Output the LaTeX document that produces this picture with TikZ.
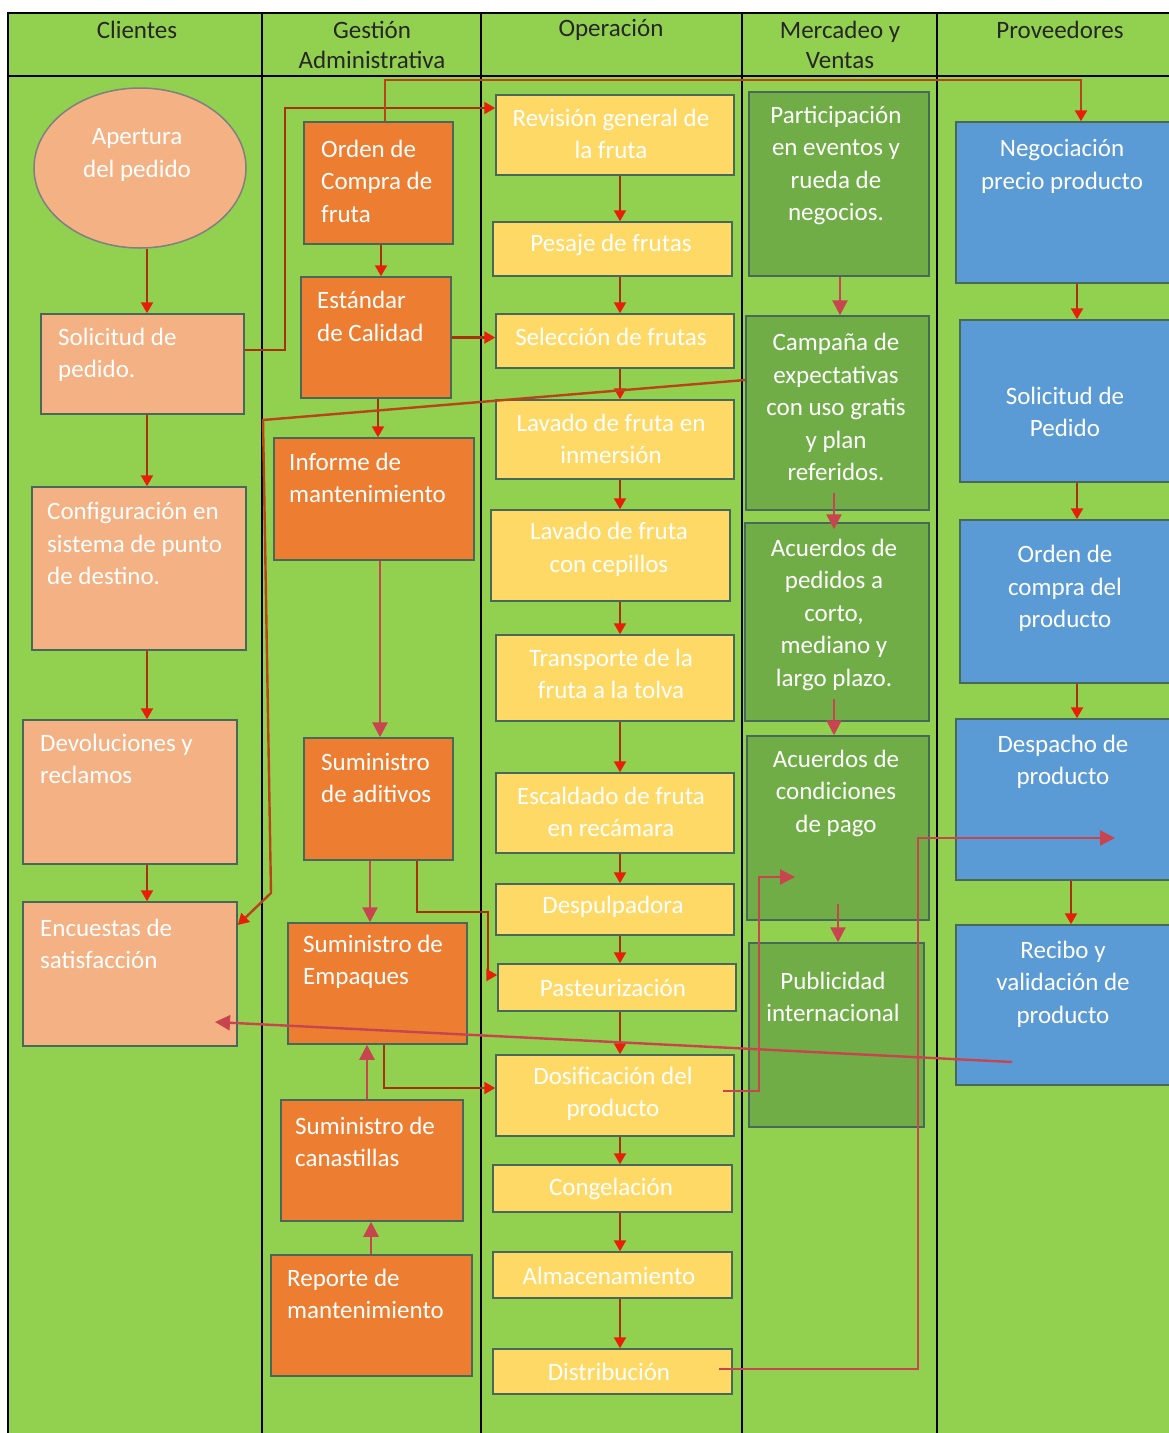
\documentclass[tikz,border=0pt]{standalone}
\usepackage{fontspec}
\setmainfont{Carlito}
\usetikzlibrary{arrows.meta,calc,positioning,shapes.geometric}

\definecolor{carril}{HTML}{92D050}
\definecolor{salmon}{HTML}{F4B183}
\definecolor{naranja}{HTML}{ED7D31}
\definecolor{amarillo}{HTML}{FFD966}
\definecolor{verdeosc}{HTML}{70AD47}
\definecolor{azul}{HTML}{5B9BD5}
\definecolor{borde}{HTML}{48695A}
\definecolor{rojo}{HTML}{A8320F}
\definecolor{punta}{HTML}{E81E0A}
\definecolor{rosa}{HTML}{C8444E}
\definecolor{cafe}{HTML}{B8441A}

\tikzset{
  caja/.style={draw=borde, line width=1.5pt, inner sep=0pt},
  head/.style={font=\fontsize{25}{30}\selectfont, text=black!85, align=center, inner sep=0pt},
  txt/.style={text=white, align=center, font=\fontsize{25}{32.5}\selectfont, inner sep=0pt},
  txtl/.style={txt, align=left, anchor=west},
  flujo/.style={draw=rojo, line width=2.2pt, -{Triangle[length=11pt,width=12pt,color=punta]}},
  enlace/.style={draw=rosa, line width=2.4pt, -{Triangle[length=15pt,width=15pt]}},
  marron/.style={draw=cafe, line width=2.4pt, -{Triangle[length=11pt,width=12pt,color=punta]}}
}

\begin{document}
\begin{tikzpicture}[x=1pt, y=-1pt]
    \useasboundingbox (0,0) rectangle (1169,1433);
    \clip (0,0) rectangle (1169,1433);

    % Lanes
    \fill[carril] (8,13) rectangle (1180,1440);
    \draw[line width=2pt] (8,1440) -- (8,13) -- (1180,13);
    \draw[line width=2pt] (8,76) -- (1180,76);
    \draw[line width=2pt] (262,13) -- (262,1440);
    \draw[line width=2pt] (481,13) -- (481,1440);
    \draw[line width=2pt] (742,13) -- (742,1440);
    \draw[line width=2pt] (937,13) -- (937,1440);

    % Headers
    \node[head] (hcli) at (137,30) {Clientes};
    \node[head] (hges) at (372,45) {Gestión\\Administrativa};
    \node[head] (hope) at (611,30) {Operación};
    \node[head] (hmer) at (840,45) {Mercadeo y\\Ventas};
    \node[head] (hpro) at (1060,30) {Proveedores};

    % Columns for the vertical arrows
    \coordinate (xcli) at (147,0);
    \coordinate (xope) at (620,0);
    \coordinate (xprov) at (1077,0);
    \coordinate (xprov2) at (1071,0);

    % Clientes
    \node[caja, ellipse, fill=salmon, draw=gray, minimum width=212, minimum height=160] (apertura) at (140,168) {};
    \node[caja, fill=salmon, minimum width=203, minimum height=100] (solicitud) at (142.5,364) {};
    \node[caja, fill=salmon, minimum width=214, minimum height=163] (config) at (139,568.5) {};
    \node[caja, fill=salmon, minimum width=214, minimum height=144] (devol) at (130,792) {};
    \node[caja, fill=salmon, minimum width=214, minimum height=144] (encuestas) at (130,974) {};

    \node[txt] (tapertura) at (137,155) {Apertura\\del pedido};
    \node[txtl] (tsolicitud) at (58,355) {Solicitud de\\pedido.};
    \node[txtl] (tconfig) at (47,543.5) {Configuración en\\sistema de punto\\de destino.};
    \node[txtl] (tdevol) at (40,759) {Devoluciones y\\reclamos};
    \node[txtl] (tencuestas) at (40,944) {Encuestas de\\satisfacción};

    % Gestion Administrativa
    \node[caja, fill=naranja, minimum width=149, minimum height=122] (orden) at (378.5,183) {};
    \node[caja, fill=naranja, minimum width=150, minimum height=121] (estandar) at (376,337.5) {};
    \node[caja, fill=naranja, minimum width=200, minimum height=122] (informe) at (374,499) {};
    \node[caja, fill=naranja, minimum width=149, minimum height=122] (aditivos) at (378.5,799) {};
    \node[caja, fill=naranja, minimum width=179, minimum height=121] (empaques) at (377.5,983.5) {};
    \node[caja, fill=naranja, minimum width=182, minimum height=121] (canastillas) at (372,1160.5) {};
    \node[caja, fill=naranja, minimum width=201, minimum height=121] (reporte) at (371.5,1315.5) {};

    \node[txtl] (torden) at (321,181) {Orden de\\Compra de\\fruta};
    \node[txtl] (testandar) at (317,316.5) {Estándar\\de Calidad};
    \node[txtl] (tinforme) at (289,478) {Informe de\\mantenimiento};
    \node[txtl] (taditivos) at (321,778) {Suministro\\de aditivos};
    \node[txtl] (tempaques) at (303,962) {Suministro de\\Empaques};
    \node[txtl] (tcanastillas) at (295,1142) {Suministro de\\canastillas};
    \node[txtl] (treporte) at (287,1294) {Reporte de\\mantenimiento};

    % Operacion
    \node[caja, fill=amarillo, minimum width=238, minimum height=80] (revision) at (615,135) {};
    \node[caja, fill=amarillo, minimum width=239, minimum height=54] (pesaje) at (612.5,249) {};
    \node[caja, fill=amarillo, minimum width=238, minimum height=54] (seleccion) at (615,341) {};
    \node[caja, fill=amarillo, minimum width=238, minimum height=79] (inmersion) at (615,439.5) {};
    \node[caja, fill=amarillo, minimum width=239, minimum height=91] (cepillos) at (610.5,555.5) {};
    \node[caja, fill=amarillo, minimum width=238, minimum height=86] (transporte) at (615,678) {};
    \node[caja, fill=amarillo, minimum width=238, minimum height=80] (escaldado) at (615,813) {};
    \node[caja, fill=amarillo, minimum width=238, minimum height=51] (despulpadora) at (615,909.5) {};
    \node[caja, fill=amarillo, minimum width=238, minimum height=47] (pasteurizacion) at (617,987.5) {};
    \node[caja, fill=amarillo, minimum width=238, minimum height=81] (dosificacion) at (615,1095.5) {};
    \node[caja, fill=amarillo, minimum width=239, minimum height=47] (congelacion) at (612.5,1188.5) {};
    \node[caja, fill=amarillo, minimum width=239, minimum height=46] (almacenamiento) at (612.5,1275) {};
    \node[caja, fill=amarillo, minimum width=239, minimum height=45] (distribucion) at (612.5,1371.5) {};

    \node[txt] (trevision) at (611,134) {Revisión general de\\la fruta};
    \node[txt] (tpesaje) at (611,245) {Pesaje de frutas};
    \node[txt] (tseleccion) at (611,337) {Selección de frutas};
    \node[txt] (tinmersion) at (611,439) {Lavado de fruta en\\inmersión};
    \node[txt] (tcepillos) at (609,549.5) {Lavado de fruta\\con cepillos};
    \node[txt] (ttransporte) at (611,674) {Transporte de la\\fruta a la tolva};
    \node[txt] (tescaldado) at (611,812) {Escaldado de fruta\\en recámara};
    \node[txt] (tdespulpadora) at (613,907) {Despulpadora};
    \node[txt] (tpasteurizacion) at (613,988) {Pasteurización};
    \node[txt] (tdosificacion) at (613,1094) {Dosificación del\\producto};
    \node[txt] (tcongelacion) at (611,1189) {Congelación};
    \node[txt] (talmacenamiento) at (609,1276) {Almacenamiento};
    \node[txt] (tdistribucion) at (609,1372) {Distribución};

    % Mercadeo y Ventas
    \node[caja, fill=verdeosc, minimum width=180, minimum height=184] (participacion) at (839,184) {};
    \node[caja, fill=verdeosc, minimum width=183, minimum height=194] (campana) at (837.5,413) {};
    \node[caja, fill=verdeosc, minimum width=184, minimum height=198] (pedidos) at (837,622) {};
    \node[caja, fill=verdeosc, minimum width=182, minimum height=184] (condiciones) at (838,828) {};
    \node[caja, fill=verdeosc, minimum width=175, minimum height=184] (publicidad) at (836.5,1035) {};

    \node[txt] (tparticipacion) at (836,165.5) {Participación\\en eventos y\\rueda de\\negocios.};
    \node[txt] (tcampana) at (836,407) {Campaña de\\expectativas\\con uso gratis\\y plan\\referidos.};
    \node[txt] (tpedidos) at (834,614.5) {Acuerdos de\\pedidos a\\corto,\\mediano y\\largo plazo.};
    \node[txt] (tcondiciones) at (836,793) {Acuerdos de\\condiciones\\de pago};
    \node[txt] (tpublicidad) at (833,997) {Publicidad\\internacional};

    % Proveedores
    \node[caja, fill=azul, minimum width=224, minimum height=161] (negociacion) at (1068,202.5) {};
    \node[caja, fill=azul, minimum width=220, minimum height=162] (pedido) at (1070,401) {};
    \node[caja, fill=azul, minimum width=220, minimum height=163] (compra) at (1070,601.5) {};
    \node[caja, fill=azul, minimum width=224, minimum height=161] (despacho) at (1068,799.5) {};
    \node[caja, fill=azul, minimum width=224, minimum height=160] (recibo) at (1068,1005) {};

    \node[txt] (tnegociacion) at (1062,166.5) {Negociación\\precio producto};
    \node[txt] (tpedido) at (1065,412) {Solicitud de\\Pedido};
    \node[txt] (tcompra) at (1065,588.5) {Orden de\\compra del\\producto};
    \node[txt] (tdespacho) at (1063,762) {Despacho de\\producto};
    \node[txt] (trecibo) at (1063,984) {Recibo y\\validación de\\producto};

    % Bends of the long connectors
    \coordinate (k1) at (285,108);
    \coordinate (k2) at (385,80);
    \coordinate (k3) at (1081,80);
    \coordinate (k4) at (263,420);
    \coordinate (k5) at (271,893);
    \coordinate (k6) at (488,912);
    \coordinate (k7) at (759,877);
    \coordinate (k8) at (918,838);

    % Clientes arrows
    \draw[flujo] (apertura.south -| xcli) -- (solicitud.north -| xcli);
    \draw[flujo] (solicitud.south -| xcli) -- (config.north -| xcli);
    \draw[flujo] (config.south -| xcli) -- (devol.north -| xcli);
    \draw[flujo] (devol.south -| xcli) -- (encuestas.north -| xcli);

    % Gestion arrows
    \draw[flujo] ([xshift=2.5]orden.south) -- ([xshift=5]estandar.north);
    \draw[flujo] ([xshift=2]estandar.south) -- ([xshift=4]informe.north);
    \draw[enlace] ([xshift=6]informe.south) -- ([xshift=1.5]aditivos.north);
    \draw[enlace] ([xshift=-8.5]aditivos.south) -- ([xshift=-7.5]empaques.north);
    \draw[enlace] ([xshift=-5]canastillas.north) -- ([xshift=-10.5]empaques.south);
    \draw[enlace] ([xshift=-0.5]reporte.north) -- ([xshift=-1]canastillas.south);

    % Operacion arrows
    \draw[flujo] (revision.south -| xope) -- (pesaje.north -| xope);
    \draw[flujo] (pesaje.south -| xope) -- (seleccion.north -| xope);
    \draw[flujo] (seleccion.south -| xope) -- (inmersion.north -| xope);
    \draw[flujo] (inmersion.south -| xope) -- (cepillos.north -| xope);
    \draw[flujo] (cepillos.south -| xope) -- (transporte.north -| xope);
    \draw[flujo] (transporte.south -| xope) -- (escaldado.north -| xope);
    \draw[flujo] (escaldado.south -| xope) -- (despulpadora.north -| xope);
    \draw[flujo] (despulpadora.south -| xope) -- (pasteurizacion.north -| xope);
    \draw[flujo] (pasteurizacion.south -| xope) -- (dosificacion.north -| xope);
    \draw[flujo] (dosificacion.south -| xope) -- (congelacion.north -| xope);
    \draw[flujo] (congelacion.south -| xope) -- (almacenamiento.north -| xope);
    \draw[flujo] (almacenamiento.south -| xope) -- (distribucion.north -| xope);

    % Mercadeo arrows
    \draw[enlace] ([xshift=1]participacion.south) -- ([xshift=2.5]campana.north);
    \draw[enlace] ([xshift=-3.5,yshift=18]campana.south) -- ([xshift=-3,yshift=-7]pedidos.north);
    \draw[enlace] ([xshift=-3,yshift=23]pedidos.south) -- ([xshift=-4]condiciones.north);
    \draw[enlace] ([yshift=17]condiciones.south) -- ([xshift=1.5]publicidad.north);

    % Proveedores arrows
    \draw[flujo] (negociacion.south -| xprov) -- (pedido.north -| xprov);
    \draw[flujo] (pedido.south -| xprov) -- (compra.north -| xprov);
    \draw[flujo] (compra.south -| xprov) -- (despacho.north -| xprov);
    \draw[flujo] (despacho.south -| xprov2) -- (recibo.north -| xprov2);

    % Connectors between lanes
    \draw[flujo] ([yshift=14]solicitud.east) -| (k1) -- ([yshift=27]revision.west);
    \draw[marron] ([xshift=6.5]orden.north) -- (k2) -- (k3) -- (negociacion.north -| k3);
    \draw[flujo] (estandar.east) -- (estandar.east -| seleccion.west);
    \draw[marron] ([yshift=33]campana.west) -- (k4) -- (k5) -- ([yshift=49]encuestas.east);
    \draw[flujo] ([xshift=38.5]aditivos.south) |- (k6) |- ([yshift=12.5]pasteurizacion.west);
    \draw[flujo] ([xshift=6.5]empaques.south) |- ([yshift=7.5]dosificacion.west);
    \draw[enlace] ($(recibo.center)+(-56,57)$) -- ($(encuestas.center)+(85,48)$);
    \draw[enlace] ($(dosificacion.east)+(-12,-4.5)$) -| (k7) -- ($(condiciones.center)+(-43,49)$);
    \draw[enlace] ($(distribucion.east)+(-14,-2.5)$) -| (k8) -- ($(despacho.center)+(47,38.5)$);

\end{tikzpicture}
\end{document}
